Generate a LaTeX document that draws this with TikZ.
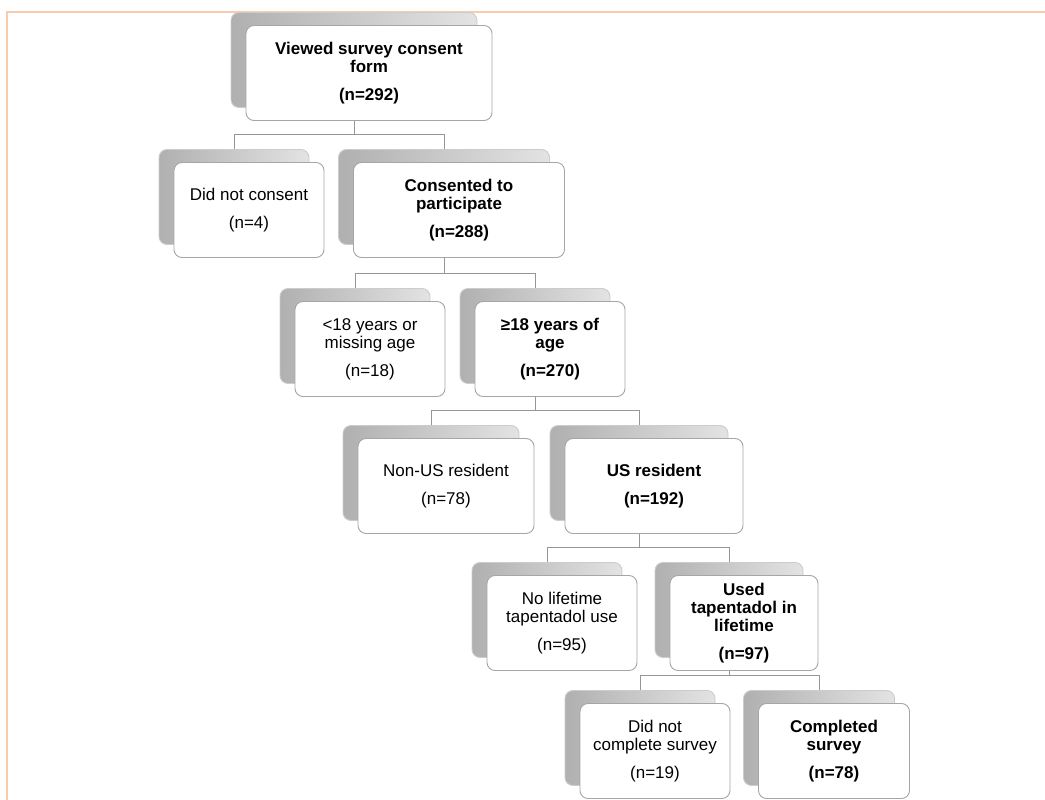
\documentclass[tikz,border=0pt]{standalone}
\usepackage{fontspec}
\setmainfont{Liberation Sans}
\usepackage{tikz}
\usetikzlibrary{shadows}
\definecolor{framecol}{RGB}{248,203,173}
\definecolor{linkgray}{RGB}{150,150,150}

\begin{document}
\begin{tikzpicture}[
            x = 1pt, y = -1pt, % one unit per pixel, y going down
            box/.style = {
                draw = gray!70,
                line width = 0.9pt,
                fill = white,
                rounded corners = 8pt,
                minimum height = 95pt,
                align = center,
                inner sep = 2pt,
                font = \fontsize{17}{18}\selectfont,
                copy shadow = {shadow xshift = -15pt, shadow yshift = 13pt,
                    draw = gray!40, left color = gray!62, right color = gray!22}
            },
            keep/.style = {box, font = \fontsize{17}{18}\selectfont\bfseries},
            link/.style = {draw = linkgray, line width = 1pt}
        ]

        \useasboundingbox (0,0) rectangle (1045,800);

        % page frame
        \draw[framecol, line width = 1.6pt] (7,800) -- (7,12) -- (1045,12);

        % screening
        \node[keep, minimum width = 246pt] (V) at (369,73) {Viewed survey consent\\form\\[10pt](n=292)};

        % consent
        \node[box, minimum width = 150pt] (NC) at (249,210) {Did not consent\\[10pt](n=4)};
        \node[keep, minimum width = 211pt] (C) at (459,210) {Consented to\\participate\\[10pt](n=288)};

        % age
        \node[box, minimum width = 150pt] (U18) at (370,349) {<18 years or\\missing age\\[10pt](n=18)};
        \node[keep, minimum width = 150pt] (A18) at (550,349) {≥18 years of\\age\\[10pt](n=270)};

        % residence
        \node[box, minimum width = 176pt] (NUS) at (446,486) {Non-US resident\\[10pt](n=78)};
        \node[keep, minimum width = 178pt] (US) at (654,486) {US resident\\[10pt](n=192)};

        % tapentadol use
        \node[box, minimum width = 150pt] (NT) at (562,623) {No lifetime\\tapentadol use\\[10pt](n=95)};
        \node[keep, minimum width = 148pt] (T) at (744,623) {Used\\tapentadol in\\lifetime\\[10pt](n=97)};

        % completion
        \node[box, minimum width = 150pt] (NS) at (655,751) {Did not\\complete survey\\[10pt](n=19)};
        \node[keep, minimum width = 151pt] (S) at (834,751) {Completed\\survey\\[10pt](n=78)};

        % tree links, from the back card of the parent to the back card of the child
        \foreach \p/\c in {V/NC, V/C, C/U18, C/A18, A18/NUS, A18/US, US/NT, US/T, T/NS, T/S}
            \draw[link] ([xshift = -15pt]\p.south) |- ([xshift = -15pt, yshift = 28pt]\c.north)
                -- ([xshift = -15pt, yshift = 13pt]\c.north);

\end{tikzpicture}
\end{document}
